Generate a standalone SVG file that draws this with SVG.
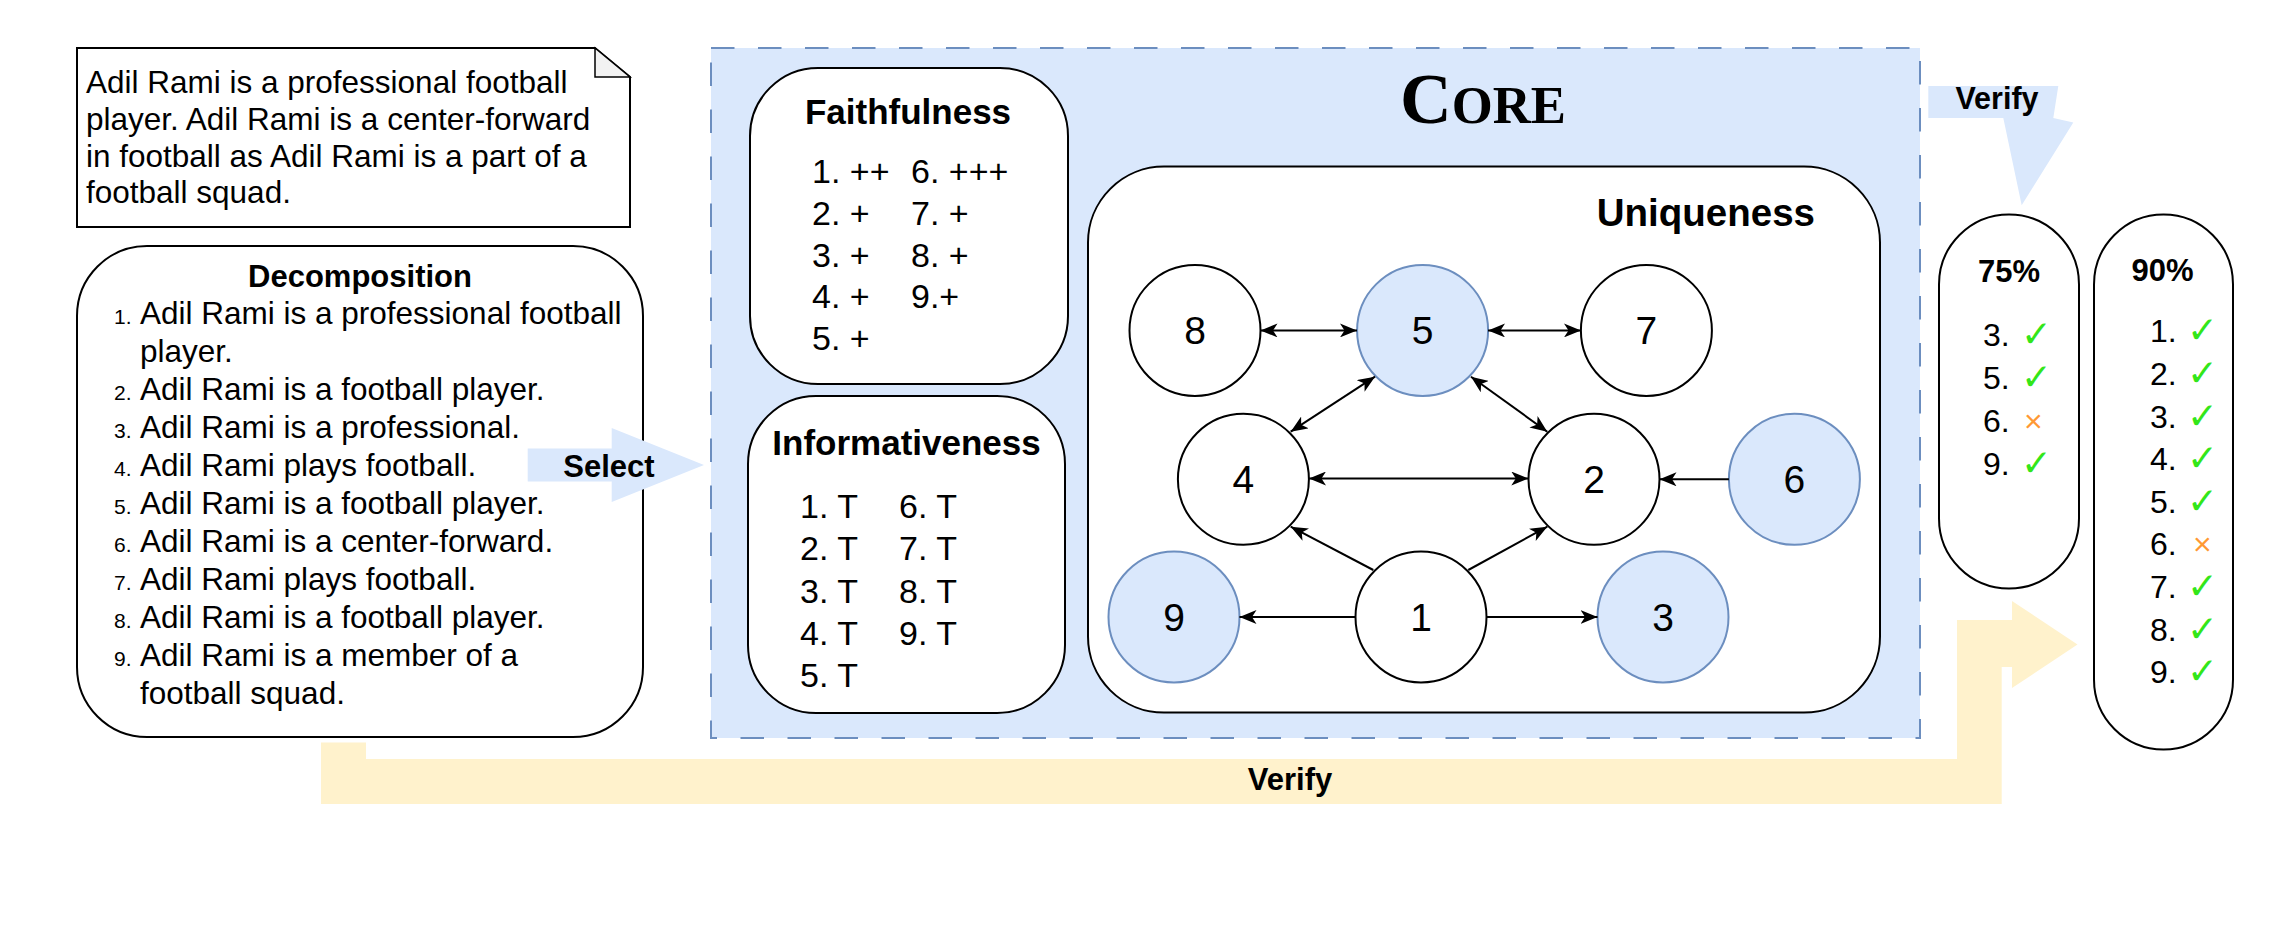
<svg xmlns="http://www.w3.org/2000/svg" width="2292" height="939" viewBox="0 0 2292 939">
<style>
.t{font-family:"Liberation Sans",Arial,Helvetica,sans-serif;fill:#000}
.b{font-weight:bold}
.box{fill:#fff;stroke:#000;stroke-width:2}
.n{fill:#fff;stroke:#000;stroke-width:2}
.nb{fill:#dae8fc;stroke:#6c8ebf;stroke-width:2}
.nl{font-family:"Liberation Sans",Arial,sans-serif;font-size:39px;text-anchor:middle;fill:#000}
.e{stroke:#000;stroke-width:2;fill:none}
.ea{marker-end:url(#ah)}
.eb{marker-start:url(#ah);marker-end:url(#ah)}
.ck{font-family:"DejaVu Sans",sans-serif;font-size:37px;font-weight:bold;fill:#33e619}
.xm{font-family:"Liberation Sans",Arial,sans-serif;font-size:32px;fill:#ff9933}
.body{font-size:31.5px}
.num{font-size:21px}
.itm{font-size:34px}
.itm2{font-size:32px}
</style>
<defs>
<marker id="ah" markerUnits="userSpaceOnUse" viewBox="0 0 18 14" markerWidth="18" markerHeight="14" refX="17" refY="7" orient="auto-start-reverse">
<path d="M0,0 L17,7 L0,14 L4.5,7 Z" fill="#000"/>
</marker>
</defs>
<rect x="0" y="0" width="2292" height="939" fill="#fff"/>

<g id="source-note">
<path d="M77,48 L595,48 L630,77 L630,227 L77,227 Z" fill="#fff" stroke="#000" stroke-width="2"/>
<path d="M595,48 L595,77 L630,77 Z" fill="#f2f2f2" stroke="#000" stroke-width="1.5"/>
<text class="t body" x="86" y="93">Adil Rami is a professional football</text>
<text class="t body" x="86" y="130">player. Adil Rami is a center-forward</text>
<text class="t body" x="86" y="166.7">in football as Adil Rami is a part of a</text>
<text class="t body" x="86" y="203.3">football squad.</text>
</g>

<g id="decomposition">
<rect class="box" x="77" y="246" width="566" height="491" rx="70" ry="70"/>
<text class="t b" x="360" y="287" font-size="31" text-anchor="middle">Decomposition</text>
<g class="t">
<text class="num" x="114" y="324">1.</text><text class="body" x="140" y="324">Adil Rami is a professional football</text>
<text class="body" x="140" y="362">player.</text>
<text class="num" x="114" y="400">2.</text><text class="body" x="140" y="400">Adil Rami is a football player.</text>
<text class="num" x="114" y="438">3.</text><text class="body" x="140" y="438">Adil Rami is a professional.</text>
<text class="num" x="114" y="476">4.</text><text class="body" x="140" y="476">Adil Rami plays football.</text>
<text class="num" x="114" y="514">5.</text><text class="body" x="140" y="514">Adil Rami is a football player.</text>
<text class="num" x="114" y="552">6.</text><text class="body" x="140" y="552">Adil Rami is a center-forward.</text>
<text class="num" x="114" y="590">7.</text><text class="body" x="140" y="590">Adil Rami plays football.</text>
<text class="num" x="114" y="628">8.</text><text class="body" x="140" y="628">Adil Rami is a football player.</text>
<text class="num" x="114" y="666">9.</text><text class="body" x="140" y="666">Adil Rami is a member of a</text>
<text class="body" x="140" y="704">football squad.</text>
</g>
</g>

<g id="verify-bottom-arrow">
<path d="M321,742.5 L366,742.5 L366,759 L1957,759 L1957,620 L2012,620 L2012,601 L2077.5,644.5 L2012,688 L2012,667 L2001.7,667 L2001.7,804 L321,804 Z" fill="#fff2cc"/>
<text class="t b" x="1290" y="790" font-size="31" text-anchor="middle">Verify</text>
</g>

<g id="core">
<rect x="711" y="48" width="1209" height="690" fill="#dae8fc" stroke="#6c8ebf" stroke-width="2" stroke-dasharray="23.5 23.5"/>
<text x="1483" y="123" font-family="'Liberation Serif','Times New Roman',serif" font-weight="bold" font-size="72" text-anchor="middle" textLength="166" lengthAdjust="spacingAndGlyphs">C<tspan font-size="53">ORE</tspan></text>
</g>

<g id="faithfulness">
<rect class="box" x="750" y="68" width="318" height="316" rx="68" ry="68"/>
<text class="t b" x="908" y="124" font-size="35" text-anchor="middle">Faithfulness</text>
<g class="t itm">
<text x="812" y="183">1. ++</text><text x="911" y="183">6. +++</text>
<text x="812" y="224.8">2. +</text><text x="911" y="224.8">7. +</text>
<text x="812" y="266.6">3. +</text><text x="911" y="266.6">8. +</text>
<text x="812" y="308.4">4. +</text><text x="911" y="308.4">9.+</text>
<text x="812" y="350.2">5. +</text>
</g>
</g>

<g id="informativeness">
<rect class="box" x="748" y="396" width="317" height="317" rx="68" ry="68"/>
<text class="t b" x="906.5" y="455" font-size="35" text-anchor="middle">Informativeness</text>
<g class="t itm">
<text x="800" y="517.7">1. T</text><text x="899" y="517.7">6. T</text>
<text x="800" y="560.1">2. T</text><text x="899" y="560.1">7. T</text>
<text x="800" y="602.5">3. T</text><text x="899" y="602.5">8. T</text>
<text x="800" y="644.9">4. T</text><text x="899" y="644.9">9. T</text>
<text x="800" y="687.3">5. T</text>
</g>
</g>

<g id="uniqueness">
<rect class="box" x="1088" y="166.6" width="792" height="546" rx="76" ry="76"/>
<text class="t b" x="1815" y="226" font-size="38.5" text-anchor="end">Uniqueness</text>
</g>

<g id="node-8"><circle class="n" cx="1195" cy="330.4" r="65.5"/><text class="nl" x="1195" y="344.4">8</text></g>
<g id="node-5"><circle class="nb" cx="1422.6" cy="330.4" r="65.5"/><text class="nl" x="1422.6" y="344.4">5</text></g>
<g id="node-7"><circle class="n" cx="1646.4" cy="330.4" r="65.5"/><text class="nl" x="1646.4" y="344.4">7</text></g>
<g id="node-4"><circle class="n" cx="1243.4" cy="479.3" r="65.5"/><text class="nl" x="1243.4" y="493.3">4</text></g>
<g id="node-2"><circle class="n" cx="1594" cy="479.3" r="65.5"/><text class="nl" x="1594" y="493.3">2</text></g>
<g id="node-6"><circle class="nb" cx="1794.4" cy="479.3" r="65.5"/><text class="nl" x="1794.4" y="493.3">6</text></g>
<g id="node-9"><circle class="nb" cx="1174" cy="617" r="65.5"/><text class="nl" x="1174" y="631">9</text></g>
<g id="node-1"><circle class="n" cx="1421" cy="617" r="65.5"/><text class="nl" x="1421" y="631">1</text></g>
<g id="node-3"><circle class="nb" cx="1663" cy="617" r="65.5"/><text class="nl" x="1663" y="631">3</text></g>

<g id="connectors">
<line class="e eb" x1="1260.5" y1="330.4" x2="1357" y2="330.4"/>
<line class="e eb" x1="1488" y1="330.4" x2="1581" y2="330.4"/>
<line class="e eb" x1="1375" y1="376.7" x2="1290.7" y2="431.7"/>
<line class="e eb" x1="1471" y1="376.7" x2="1547.3" y2="431.7"/>
<line class="e eb" x1="1309" y1="478.5" x2="1528.3" y2="478.5"/>
<line class="e ea" x1="1728.9" y1="479.3" x2="1659.5" y2="479.3"/>
<line class="e ea" x1="1373.3" y1="570" x2="1290.7" y2="526.7"/>
<line class="e ea" x1="1468.3" y1="570" x2="1547.3" y2="526.7"/>
<line class="e ea" x1="1355.5" y1="617" x2="1239.5" y2="617"/>
<line class="e ea" x1="1486.5" y1="617" x2="1597.5" y2="617"/>
</g>

<g id="select-arrow">
<path d="M527.7,448.5 L611.7,448.5 L611.7,428 L704,465 L611.7,502 L611.7,481.5 L527.7,481.5 Z" fill="#dae8fc"/>
<text class="t b" x="609" y="476.7" font-size="31" text-anchor="middle">Select</text>
</g>

<g id="verify-top-arrow">
<path d="M1928.3,85.9 L2058.3,85.9 L2053.3,118 L2073.3,122.6 L2021.7,205.3 L2003.3,118 L1928.3,118 Z" fill="#dae8fc"/>
<text class="t b" x="1997" y="108.9" font-size="30.5" text-anchor="middle">Verify</text>
</g>

<g id="result-75">
<rect class="box" x="1939" y="214.5" width="140" height="374" rx="70" ry="70"/>
<text class="t b" x="2009" y="282" font-size="31" text-anchor="middle">75%</text>
<g class="t itm2">
<text x="1983" y="346">3.</text>
<text x="1983" y="389">5.</text>
<text x="1983" y="432">6.</text>
<text x="1983" y="475">9.</text>
</g>
<text class="ck" x="2021" y="347">✓</text>
<text class="ck" x="2021" y="390">✓</text>
<text class="xm" x="2024" y="432">×</text>
<text class="ck" x="2021" y="476">✓</text>
</g>

<g id="result-90">
<rect class="box" x="2094" y="214.5" width="139" height="535" rx="69.5" ry="70"/>
<text class="t b" x="2162.5" y="281" font-size="31" text-anchor="middle">90%</text>
<g class="t itm2">
<text x="2150" y="342.3">1.</text>
<text x="2150" y="384.9">2.</text>
<text x="2150" y="427.5">3.</text>
<text x="2150" y="470.1">4.</text>
<text x="2150" y="512.7">5.</text>
<text x="2150" y="555.3">6.</text>
<text x="2150" y="597.9">7.</text>
<text x="2150" y="640.5">8.</text>
<text x="2150" y="683.1">9.</text>
</g>
<text class="ck" x="2187" y="343.3">✓</text>
<text class="ck" x="2187" y="385.9">✓</text>
<text class="ck" x="2187" y="428.5">✓</text>
<text class="ck" x="2187" y="471.1">✓</text>
<text class="ck" x="2187" y="513.7">✓</text>
<text class="xm" x="2193" y="555.3">×</text>
<text class="ck" x="2187" y="598.9">✓</text>
<text class="ck" x="2187" y="641.5">✓</text>
<text class="ck" x="2187" y="684.1">✓</text>
</g>
</svg>
